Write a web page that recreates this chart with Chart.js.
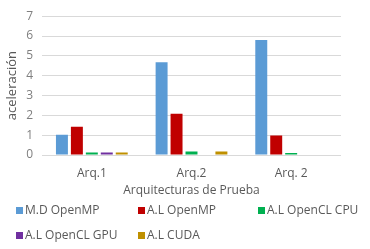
<!DOCTYPE html>
<html>
<head>
<meta charset="utf-8">
<script src="https://cdn.jsdelivr.net/npm/chart.js@4/dist/chart.umd.min.js"></script>
<style>
  body { margin: 0; background: #fff; }
  #wrap { position: relative; width: 370px; height: 249px; }
  #legend { position: absolute; left: 0; top: 0; width: 370px; height: 249px; pointer-events: none;
            font-family: "Open Sans", sans-serif; font-size: 12px; color: #595959; }
  .item { position: absolute; white-space: nowrap; line-height: 14px; }
  .box { display: inline-block; width: 7px; height: 7px; margin-right: 2px; vertical-align: 0px; }
</style>
</head>
<body>
<div id="wrap">
  <canvas id="myChart" width="370" height="249"></canvas>
  <div id="legend"></div>
</div>
<script>
// values
const categories = ['Arq.1', 'Arq.2', 'Arq. 2'];
const mdOpenMP = [1.02, 4.68, 5.8];
const alOpenMP = [1.42, 2.08, 0.98];
const alOpenCLCPU = [0.12, 0.18, 0.1];
const alOpenCLGPU = [0.12, 0, 0];
const alCUDA = [0.12, 0.18, 0];
const yTicks = [0, 1, 2, 3, 4, 5, 6, 7];

const seriesNames = ['M.D OpenMP', 'A.L OpenMP', 'A.L OpenCL CPU', 'A.L OpenCL GPU', 'A.L CUDA'];
const seriesColors = ['#5B9BD5', '#C00000', '#00B050', '#7030A0', '#BF9000'];
const seriesValues = [mdOpenMP, alOpenMP, alOpenCLCPU, alOpenCLGPU, alCUDA];

const datasets = [];
for (let i = 0; i < seriesNames.length; i++) {
    datasets.push({
        label: seriesNames[i],
        data: seriesValues[i],
        backgroundColor: seriesColors[i],
        barPercentage: 0.8,
        categoryPercentage: 0.75
    });
}

const config = {
    type: 'bar',
    data: { labels: categories, datasets: datasets },
    options: {
        responsive: false,
        animation: false,
        layout: { padding: { left: 0, right: 29, top: 15, bottom: 51 } },
        plugins: {
            legend: { display: false },
            tooltip: { enabled: false }
        },
        scales: {
            x: {
                afterFit: function(scale) { scale.height = 43; },
                grid: { display: false, drawTicks: false },
                border: { display: false },
                ticks: { color: '#595959', padding: 11, font: { family: 'Open Sans', size: 12 } },
                title: { display: true, text: 'Arquitecturas de Prueba', color: '#595959',
                         padding: 0, font: { family: 'Open Sans', size: 12 } }
            },
            y: {
                min: 0, max: 7,
                afterBuildTicks: function(scale) { scale.ticks = yTicks.map(v => ({ value: v })); },
                afterFit: function(scale) { scale.width = 42; },
                grid: { color: '#D9D9D9', drawTicks: false },
                border: { display: false },
                ticks: { color: '#7F7F7F', padding: 9, font: { family: 'Open Sans', size: 12 } },
                title: { display: true, text: 'aceleración', color: '#595959',
                         padding: { top: 4, bottom: 0 }, font: { family: 'Open Sans', size: 13 } }
            }
        }
    }
};
var myChart = new Chart(document.getElementById('myChart'), config);

// legend laid out in columns like the original
const legendPos = [[16, 203], [138, 203], [258, 203], [16, 228], [138, 228]];
let legend = document.getElementById('legend');
for (let i = 0; i < seriesNames.length; i++) {
    let item = document.createElement('div');
    item.className = 'item';
    item.style.left = legendPos[i][0] + 'px';
    item.style.top = legendPos[i][1] + 'px';
    let box = document.createElement('span');
    box.className = 'box';
    box.style.background = seriesColors[i];
    item.appendChild(box);
    item.appendChild(document.createTextNode(seriesNames[i]));
    legend.appendChild(item);
}
</script>
</body>
</html>
